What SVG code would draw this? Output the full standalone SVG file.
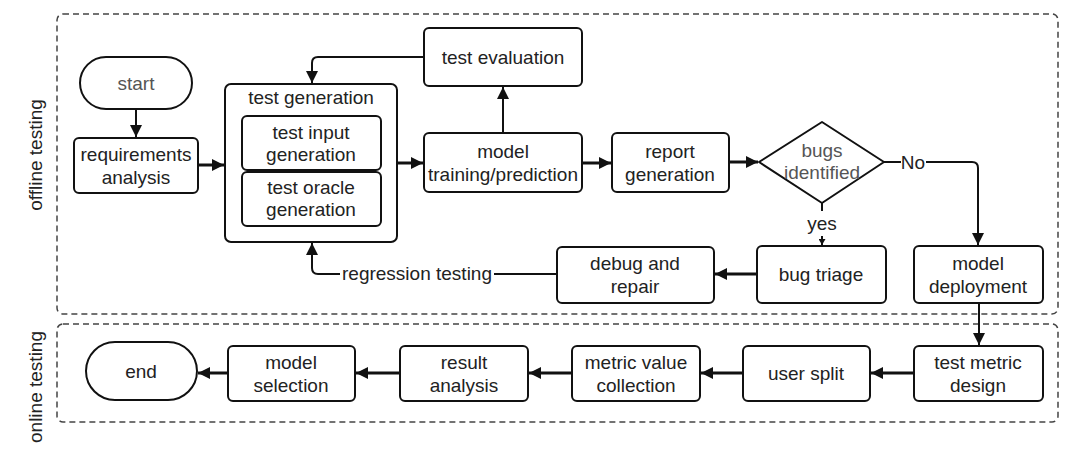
<svg xmlns="http://www.w3.org/2000/svg" width="1080" height="456" viewBox="0 0 1080 456">
<style>
.box{fill:#fff;stroke:#111;stroke-width:2}
.lane{fill:none;stroke:#444;stroke-width:1.5;stroke-dasharray:6 4}
text{font-family:"Liberation Sans",Arial,sans-serif;font-size:19px;fill:#222;text-anchor:middle;dominant-baseline:central}
.grey{fill:#555}
.c{fill:none;stroke:#111;stroke-width:2}
.t{fill:none;stroke:#111;stroke-width:3}
</style>
<defs>
<marker id="ah" markerUnits="userSpaceOnUse" markerWidth="13" markerHeight="12" refX="12" refY="6" orient="auto">
<path d="M0,0 L12,6 L0,12 Z" fill="#111"/>
</marker>
<marker id="as" markerUnits="userSpaceOnUse" markerWidth="7" markerHeight="7" refX="6" refY="3.5" orient="auto">
<path d="M0,0 L6,3.5 L0,7 Z" fill="#111"/>
</marker>
</defs>
<rect id="offline-lane" class="lane" x="57" y="14" width="1001" height="300" rx="6"/>
<rect id="online-lane" class="lane" x="57" y="324" width="1001" height="98" rx="6"/>
<text transform="translate(35,155) rotate(-90)">offline testing</text>
<text transform="translate(35,387) rotate(-90)">online testing</text>
<g id="connectors">
<path class="c" d="M136,109 V137" marker-end="url(#ah)"/>
<path class="t" d="M198,165 H224" marker-end="url(#ah)"/>
<path class="t" d="M397,163 H423" marker-end="url(#ah)"/>
<path class="c" d="M503,133 V87" marker-end="url(#ah)"/>
<path class="t" d="M582,163 H611" marker-end="url(#ah)"/>
<path class="t" d="M729,162 H758" marker-end="url(#ah)"/>
<path class="c" d="M424,57 H318 Q312,57 312,63 V83" marker-end="url(#ah)"/>
<path class="c" d="M884,162 H901"/>
<text x="913" y="162">No</text>
<path class="c" d="M926,162 H972 Q978,162 978,168 V245" marker-end="url(#ah)"/>
<path class="c" d="M822,203 V211"/>
<text x="822" y="223">yes</text>
<path class="c" d="M822,236 V245" marker-end="url(#as)"/>
<path class="t" d="M757,274 H715" marker-end="url(#ah)"/>
<path class="c" d="M557,274 H494"/>
<text x="417" y="273">regression testing</text>
<path class="c" d="M340,274 H318 Q312,274 312,268 V243" marker-end="url(#ah)"/>
<path class="c" d="M979,303 V345" marker-end="url(#ah)"/>
<path class="t" d="M914,373 H871" marker-end="url(#ah)"/>
<path class="t" d="M743,373 H701" marker-end="url(#ah)"/>
<path class="t" d="M572,373 H529" marker-end="url(#ah)"/>
<path class="t" d="M400,373 H356" marker-end="url(#ah)"/>
<path class="t" d="M228,373 H198" marker-end="url(#ah)"/>
</g>
<g id="start"><rect class="box" x="80" y="57" width="112" height="52" rx="26"/><text class="grey" x="136" y="83">start</text></g>
<g id="requirements-analysis"><rect class="box" x="74" y="138" width="124" height="55" rx="5"/><text x="136" y="154">requirements</text><text x="136" y="177">analysis</text></g>
<g id="test-generation"><rect class="box" x="225" y="84" width="172" height="158" rx="6"/><text x="311" y="97">test generation</text></g>
<g id="test-input-generation"><rect class="box" x="242" y="116" width="139" height="54" rx="5"/><text x="311" y="132">test input</text><text x="311" y="154">generation</text></g>
<g id="test-oracle-generation"><rect class="box" x="242" y="172" width="139" height="54" rx="5"/><text x="311" y="187">test oracle</text><text x="311" y="209">generation</text></g>
<g id="test-evaluation"><rect class="box" x="424" y="28" width="158" height="58" rx="5"/><text x="503" y="57">test evaluation</text></g>
<g id="model-training"><rect class="box" x="424" y="133" width="158" height="59" rx="5"/><text x="503" y="151">model</text><text x="503" y="174">training/prediction</text></g>
<g id="report-generation"><rect class="box" x="612" y="133" width="117" height="59" rx="5"/><text x="670" y="151">report</text><text x="670" y="174">generation</text></g>
<g id="bugs-identified"><path class="box" d="M759,162 L822,122 L884,162 L822,203 Z" stroke-linejoin="round"/><text class="grey" x="822" y="150">bugs</text><text class="grey" x="822" y="172">identified</text></g>
<g id="bug-triage"><rect class="box" x="757" y="246" width="129" height="57" rx="5"/><text x="821" y="274">bug triage</text></g>
<g id="model-deployment"><rect class="box" x="914" y="246" width="129" height="57" rx="5"/><text x="978" y="263">model</text><text x="978" y="286">deployment</text></g>
<g id="debug-and-repair"><rect class="box" x="557" y="247" width="157" height="56" rx="5"/><text x="635" y="263">debug and</text><text x="635" y="286">repair</text></g>
<g id="end"><rect class="box" x="86" y="342" width="111" height="58" rx="29"/><text x="141" y="371">end</text></g>
<g id="model-selection"><rect class="box" x="228" y="346" width="127" height="55" rx="5"/><text x="291" y="362">model</text><text x="291" y="385">selection</text></g>
<g id="result-analysis"><rect class="box" x="400" y="346" width="128" height="55" rx="5"/><text x="464" y="362">result</text><text x="464" y="385">analysis</text></g>
<g id="metric-value-collection"><rect class="box" x="572" y="346" width="128" height="55" rx="5"/><text x="636" y="362">metric value</text><text x="636" y="385">collection</text></g>
<g id="user-split"><rect class="box" x="743" y="346" width="127" height="55" rx="5"/><text x="806" y="373">user split</text></g>
<g id="test-metric-design"><rect class="box" x="914" y="346" width="129" height="55" rx="5"/><text x="978" y="362">test metric</text><text x="978" y="385">design</text></g>
</svg>
